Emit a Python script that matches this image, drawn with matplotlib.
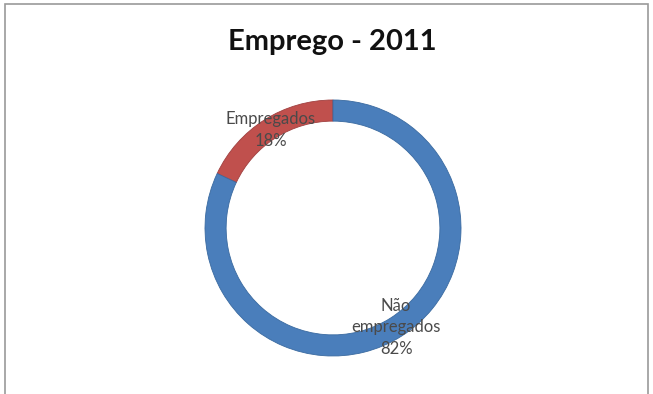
import numpy as np
import matplotlib.pyplot as plt
from matplotlib.patches import Rectangle

# Dados do gráfico de emprego
categorias = ["Empregados", "Não\nempregados"]
percentuais = [18, 82]
cores = ["#C0504D", "#4A7EBB"]

W, H = 653, 394
fig = plt.figure(figsize=(W / 100, H / 100), dpi=100)
fig.patch.set_facecolor("white")

# moldura cinza do gráfico
fig.add_artist(Rectangle((5 / W, -0.05), 643 / W, 1.05 - 4 / H,
                         transform=fig.transFigure, fill=False,
                         edgecolor="#9a9a9a", linewidth=1.2))

fig.text(332 / W, 1 - 42 / H, "Emprego - 2011", ha="center", va="center",
         fontsize=21, fontweight="bold", family="Lato", color="#111111")

# anel (rosca) centrado
cx, cy, r = 333, 228, 128
ax = fig.add_axes([(cx - r) / W, (H - cy - r) / H, 2 * r / W, 2 * r / H])
wedges, _ = ax.pie(percentuais, colors=cores, startangle=90, counterclock=True,
                   radius=1, wedgeprops=dict(width=0.165, edgecolor="#3a6aa0",
                                             linewidth=0.6))
wedges[0].set_edgecolor("#a04040")
ax.set_xlim(-1, 1)
ax.set_ylim(-1, 1)
ax.set_aspect("equal")
ax.axis("off")

# rótulos de dados
distancias = [0.91, 0.92]
for w, nome, p, dist in zip(wedges, categorias, percentuais, distancias):
    ang = np.deg2rad((w.theta1 + w.theta2) / 2)
    ax.text(dist * np.cos(ang), dist * np.sin(ang), f"{nome}\n{p}%",
            ha="center", va="center", fontsize=12, family="Lato",
            color="#4a4a4a", linespacing=1.45)

fig.savefig("out.png", dpi=100)
